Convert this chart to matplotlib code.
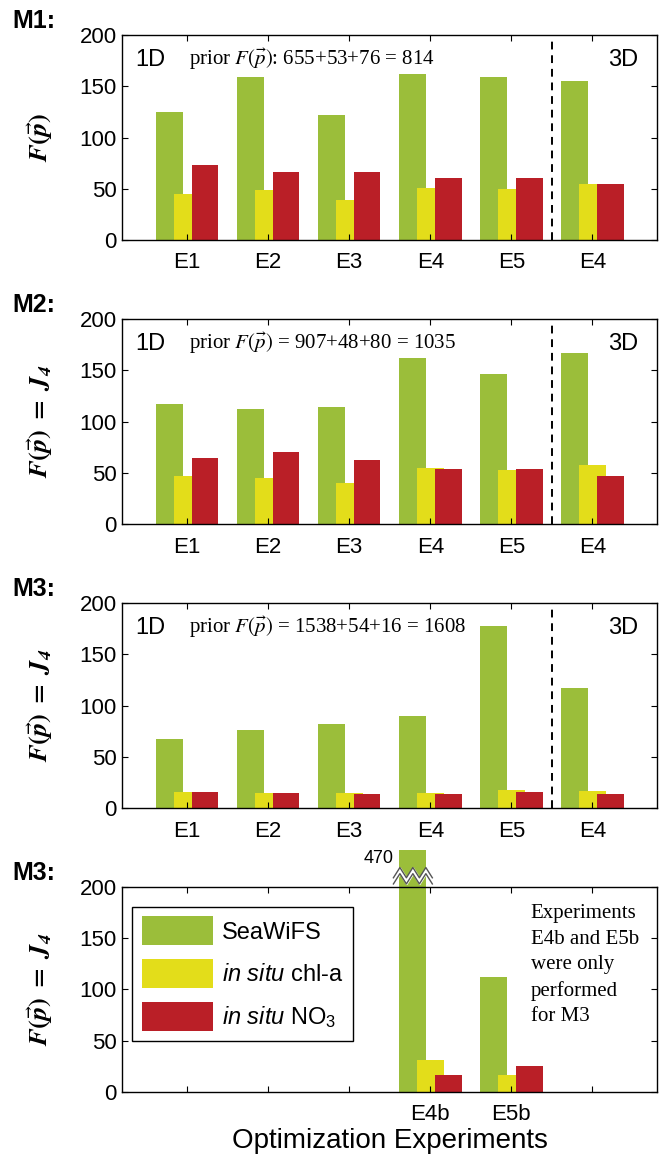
import numpy as np
import matplotlib
matplotlib.use("Agg")
import matplotlib.pyplot as plt
from matplotlib.patches import Rectangle

plt.rcParams['font.family'] = ['Liberation Sans', 'DejaVu Sans']
plt.rcParams['mathtext.fontset'] = 'custom'
plt.rcParams['mathtext.rm'] = 'Liberation Sans'
plt.rcParams['mathtext.it'] = 'Liberation Sans:italic'
plt.rcParams['mathtext.bf'] = 'Liberation Sans:bold'

# data
experiments = ['E1', 'E2', 'E3', 'E4', 'E5', 'E4']
exp_b = ['E4b', 'E5b']
series = ['SeaWiFS', r'$\it{in\ situ}$ chl-a', r'$\it{in\ situ}$ NO$_3$']

m1_seawifs = [125, 159, 122, 162, 159, 155]
m1_chl = [45, 49, 39, 51, 50, 55]
m1_no3 = [73, 66, 66, 60, 60, 55]

m2_seawifs = [117, 112, 114, 162, 146, 167]
m2_chl = [47, 45, 40, 55, 53, 58]
m2_no3 = [64, 70, 62, 54, 54, 47]

m3_seawifs = [67, 76, 82, 90, 178, 117]
m3_chl = [16, 15, 15, 15, 18, 17]
m3_no3 = [16, 15, 14, 14, 16, 14]

m3b_seawifs = [470, 112]
m3b_chl = [31, 17]
m3b_no3 = [17, 25]

panel_tags = ['M1:', 'M2:', 'M3:', 'M3:']
priors = [r'prior $F(\vec{p})$: 655+53+76 = 814',
          r'prior $F(\vec{p})$ = 907+48+80 = 1035',
          r'prior $F(\vec{p})$ = 1538+54+16 = 1608']
ylab1 = r'$\mathbfit{F}\mathbf{(}\vec{\mathbfit{p}}\mathbf{)}$'
ylab2 = r'$\mathbfit{F}\mathbf{(}\vec{\mathbfit{p}}\mathbf{)}\ \mathbf{=}\ \mathbfit{J}_\mathbfit{4}$'

colors = ['#9bbe3a', '#e3dd1a', '#ba1f27']
offsets = [-0.22, 0.0, 0.22]
bw = 0.33

fig = plt.figure(figsize=(6.64, 11.56), dpi=100)
left, width, height = 0.184, 0.806, 0.1773
bottoms = [0.7924, 0.5467, 0.3010, 0.0554]
axes = [fig.add_axes([left, b, width, height]) for b in bottoms]

x = np.arange(1, 7)


def style_axis(ax, tag, ylab):
    ax.set_xlim(0.2, 6.8)
    ax.set_ylim(0, 200)
    ax.set_yticks([0, 50, 100, 150, 200])
    ax.set_xticks(x)
    ax.tick_params(direction='in', top=True, right=True, length=4,
                   width=0.8, labelsize=16)
    ax.tick_params(axis='x', pad=9)
    ax.tick_params(axis='y', pad=4)
    for s in ax.spines.values():
        s.set_linewidth(1.0)
    ax.set_ylabel(ylab, fontsize=19, math_fontfamily='stix')
    ax.yaxis.set_label_coords(-0.125, 0.5)
    ax.text(-0.205, 1.068, tag, transform=ax.transAxes, fontsize=18,
            fontweight='bold', ha='left', va='center')


groups = [(m1_seawifs, m1_chl, m1_no3),
          (m2_seawifs, m2_chl, m2_no3),
          (m3_seawifs, m3_chl, m3_no3)]

for i, ax in enumerate(axes[:3]):
    for vals, off, c in zip(groups[i], offsets, colors):
        ax.bar(x + off, vals, width=bw, color=c, linewidth=0)
    style_axis(ax, panel_tags[i], ylab1 if i == 0 else ylab2)
    ax.set_xticklabels(experiments)
    ax.axvline(5.5, color='black', linestyle='--', linewidth=1.4,
               dashes=(4, 3))
    ax.text(0.024, 0.88, '1D', transform=ax.transAxes, fontsize=17,
            ha='left', va='center')
    ax.text(0.964, 0.88, '3D', transform=ax.transAxes, fontsize=17,
            ha='right', va='center')
    ax.text(0.124, 0.88, priors[i], transform=ax.transAxes, fontsize=15,
            family='Liberation Serif', math_fontfamily='stix',
            ha='left', va='center')

# last panel: only E4b and E5b
ax = axes[3]
xb = np.array([4, 5])
handles = []
clip_top = 236
for vals, off, c, lab in zip((m3b_seawifs, m3b_chl, m3b_no3), offsets,
                             colors, series):
    bars = ax.bar(xb + off, vals, width=bw, color=c, linewidth=0,
                  label=lab)
    handles.append(bars)
style_axis(ax, panel_tags[3], ylab2)
ax.set_xticklabels(['', '', '', exp_b[0], exp_b[1], ''])
ax.set_xlabel('Optimization Experiments', fontsize=20, labelpad=2)

# broken tall bar
big = handles[0][0]
big.set_clip_on(True)
clipper = Rectangle((0.2, 0), 6.6, clip_top, transform=ax.transData)
big.set_clip_path(clipper)
bx0 = big.get_x() - 0.07
bx1 = big.get_x() + big.get_width() + 0.08
zx = np.linspace(bx0, bx1, 7)
upper = np.array([209, 219, 209, 219, 209, 219, 209])
lower = upper - 6
ax.fill_between(zx, lower, upper, color='white', clip_on=False, zorder=4)
ax.plot(zx, upper, color='#555555', lw=1, clip_on=False, zorder=5)
ax.plot(zx, lower, color='#555555', lw=1, clip_on=False, zorder=5)
ax.text(bx0, 228, str(m3b_seawifs[0]), fontsize=13, ha='right',
        va='center')

leg = ax.legend(loc='upper left', bbox_to_anchor=(0.019, 0.903),
                borderaxespad=0, fontsize=17, handlelength=3.0,
                handleheight=1.5, labelspacing=0.6, handletextpad=0.4,
                borderpad=0.4, fancybox=False, framealpha=1,
                edgecolor='black')
leg.get_frame().set_linewidth(1.0)

ax.text(0.763, 0.915,
        'Experiments\nE4b and E5b\nwere only\nperformed\nfor M3',
        transform=ax.transAxes, fontsize=15, family='Liberation Serif',
        ha='left', va='top', linespacing=1.45)

fig.savefig('out.png', dpi=100)
